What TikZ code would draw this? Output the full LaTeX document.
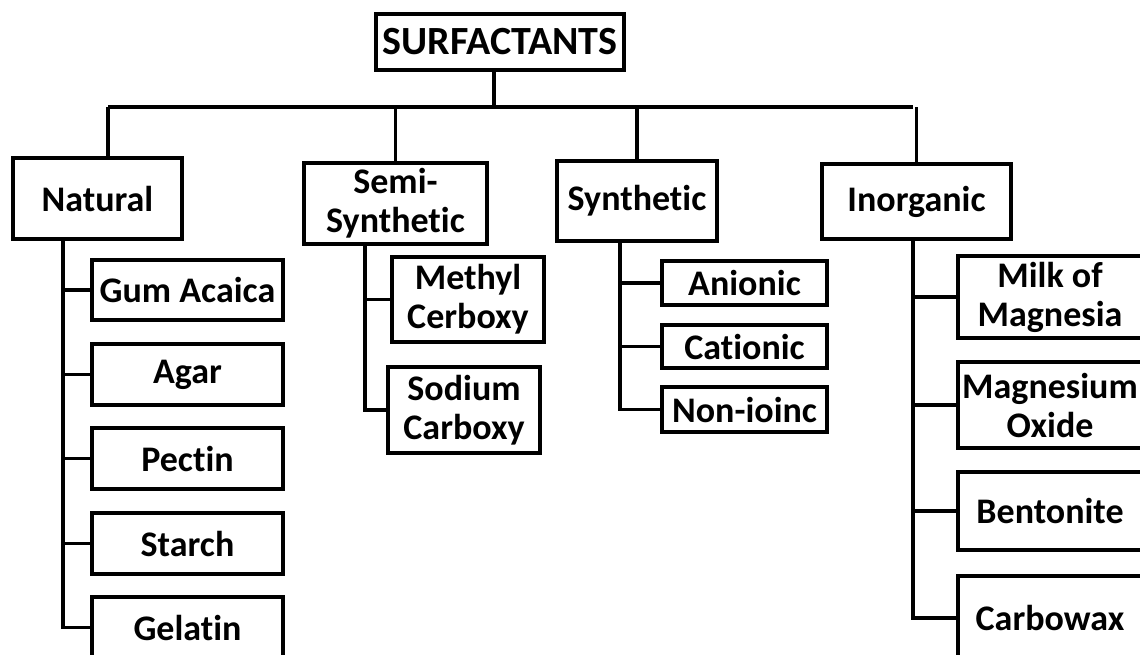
\documentclass[tikz,border=0pt]{standalone}
\usepackage{fontspec}
\setmainfont{Carlito}[Ligatures=NoCommon]
\usepackage{tikz}
\usetikzlibrary{positioning}

\begin{document}
\begin{tikzpicture}[x=1pt,y=-1pt,
  box/.style={draw,line width=3.2pt,inner sep=0pt,align=center,
    font=\fontsize{36}{39}\selectfont\bfseries},
  link/.style={line width=3.2pt}]

  \useasboundingbox (0,0) rectangle (1140,654);

  % The top
  \node [box,line width=3.6pt,minimum width=248,minimum height=56,
    font=\fontsize{40}{44}\selectfont\bfseries] at (500,42) (root) {SURFACTANTS};

  % The groups
  \node [box,minimum width=169,minimum height=81] at (97.5,198.5) (nat) {Natural};
  \node [box,minimum width=183,minimum height=81] at (395.5,203.5) (semi) {Semi-\\Synthetic};
  \node [box,minimum width=160,minimum height=80] at (637,201) (syn) {Synthetic};
  \node [box,minimum width=189,minimum height=75] at (916.5,201.5) (inorg) {Inorganic};

  % Natural
  \node [box,minimum width=191,minimum height=60] at (187.5,290) (gum) {Gum Acaica};
  \node [box,minimum width=191,minimum height=61] at (187.5,374.5) (agar) {Agar};
  \node [box,minimum width=191,minimum height=61] at (187.5,458.5) (pectin) {Pectin};
  \node [box,minimum width=191,minimum height=61] at (187.5,543.5) (starch) {Starch};
  \node [box,minimum width=191,minimum height=61] at (187.5,627.5) (gelatin) {Gelatin};

  % Semi-synthetic
  \node [box,minimum width=152,minimum height=85] at (468,299.5) (methyl) {Methyl\\Cerboxy};
  \node [box,minimum width=152,minimum height=86] at (464,410) (sodium) {Sodium\\Carboxy};

  % Synthetic
  \node [box,minimum width=165,minimum height=44] at (744.5,283) (anionic) {Anionic};
  \node [box,minimum width=165,minimum height=43] at (744.5,346.5) (cationic) {Cationic};
  \node [box,minimum width=165,minimum height=45] at (744.5,409.5) (nonionic) {Non-ioinc};

  % Inorganic
  \node [box,minimum width=184,minimum height=82] at (1050,297) (milk) {Milk of\\Magnesia};
  \node [box,minimum width=184,minimum height=86] at (1050,405) (magox) {Magnesium\\Oxide};
  \node [box,minimum width=184,minimum height=78] at (1050,511) (bento) {Bentonite};
  \node [box,minimum width=184,minimum height=84] at (1050,618) (carbo) {Carbowax};

  % Tree lines
  \coordinate (bar) at (494,107);
  \coordinate (barL) at (108,107);
  \coordinate (barR) at (913,107);
  \draw [link] (root.south -| bar) -- (bar);
  \draw [link] (barL) -- (barR);
  \draw [link] (barL) -- (barL |- nat.north);
  \foreach \g in {semi,syn,inorg}
    \draw [link] (bar -| \g.north) -- (\g);

  \coordinate (natstem) at (63,239);
  \coordinate (semistem) at (365,244);
  \coordinate (synstem) at (620,241);
  \coordinate (inorgstem) at (913,239);
  \foreach \c in {gum,agar,pectin,starch,gelatin}
    \draw [link] (natstem) |- (\c);
  \foreach \c in {methyl,sodium}
    \draw [link] (semistem) |- (\c);
  \foreach \c in {anionic,cationic,nonionic}
    \draw [link] (synstem) |- (\c);
  \foreach \c in {milk,magox,bento,carbo}
    \draw [link] (inorgstem) |- (\c);

\end{tikzpicture}
\end{document}
